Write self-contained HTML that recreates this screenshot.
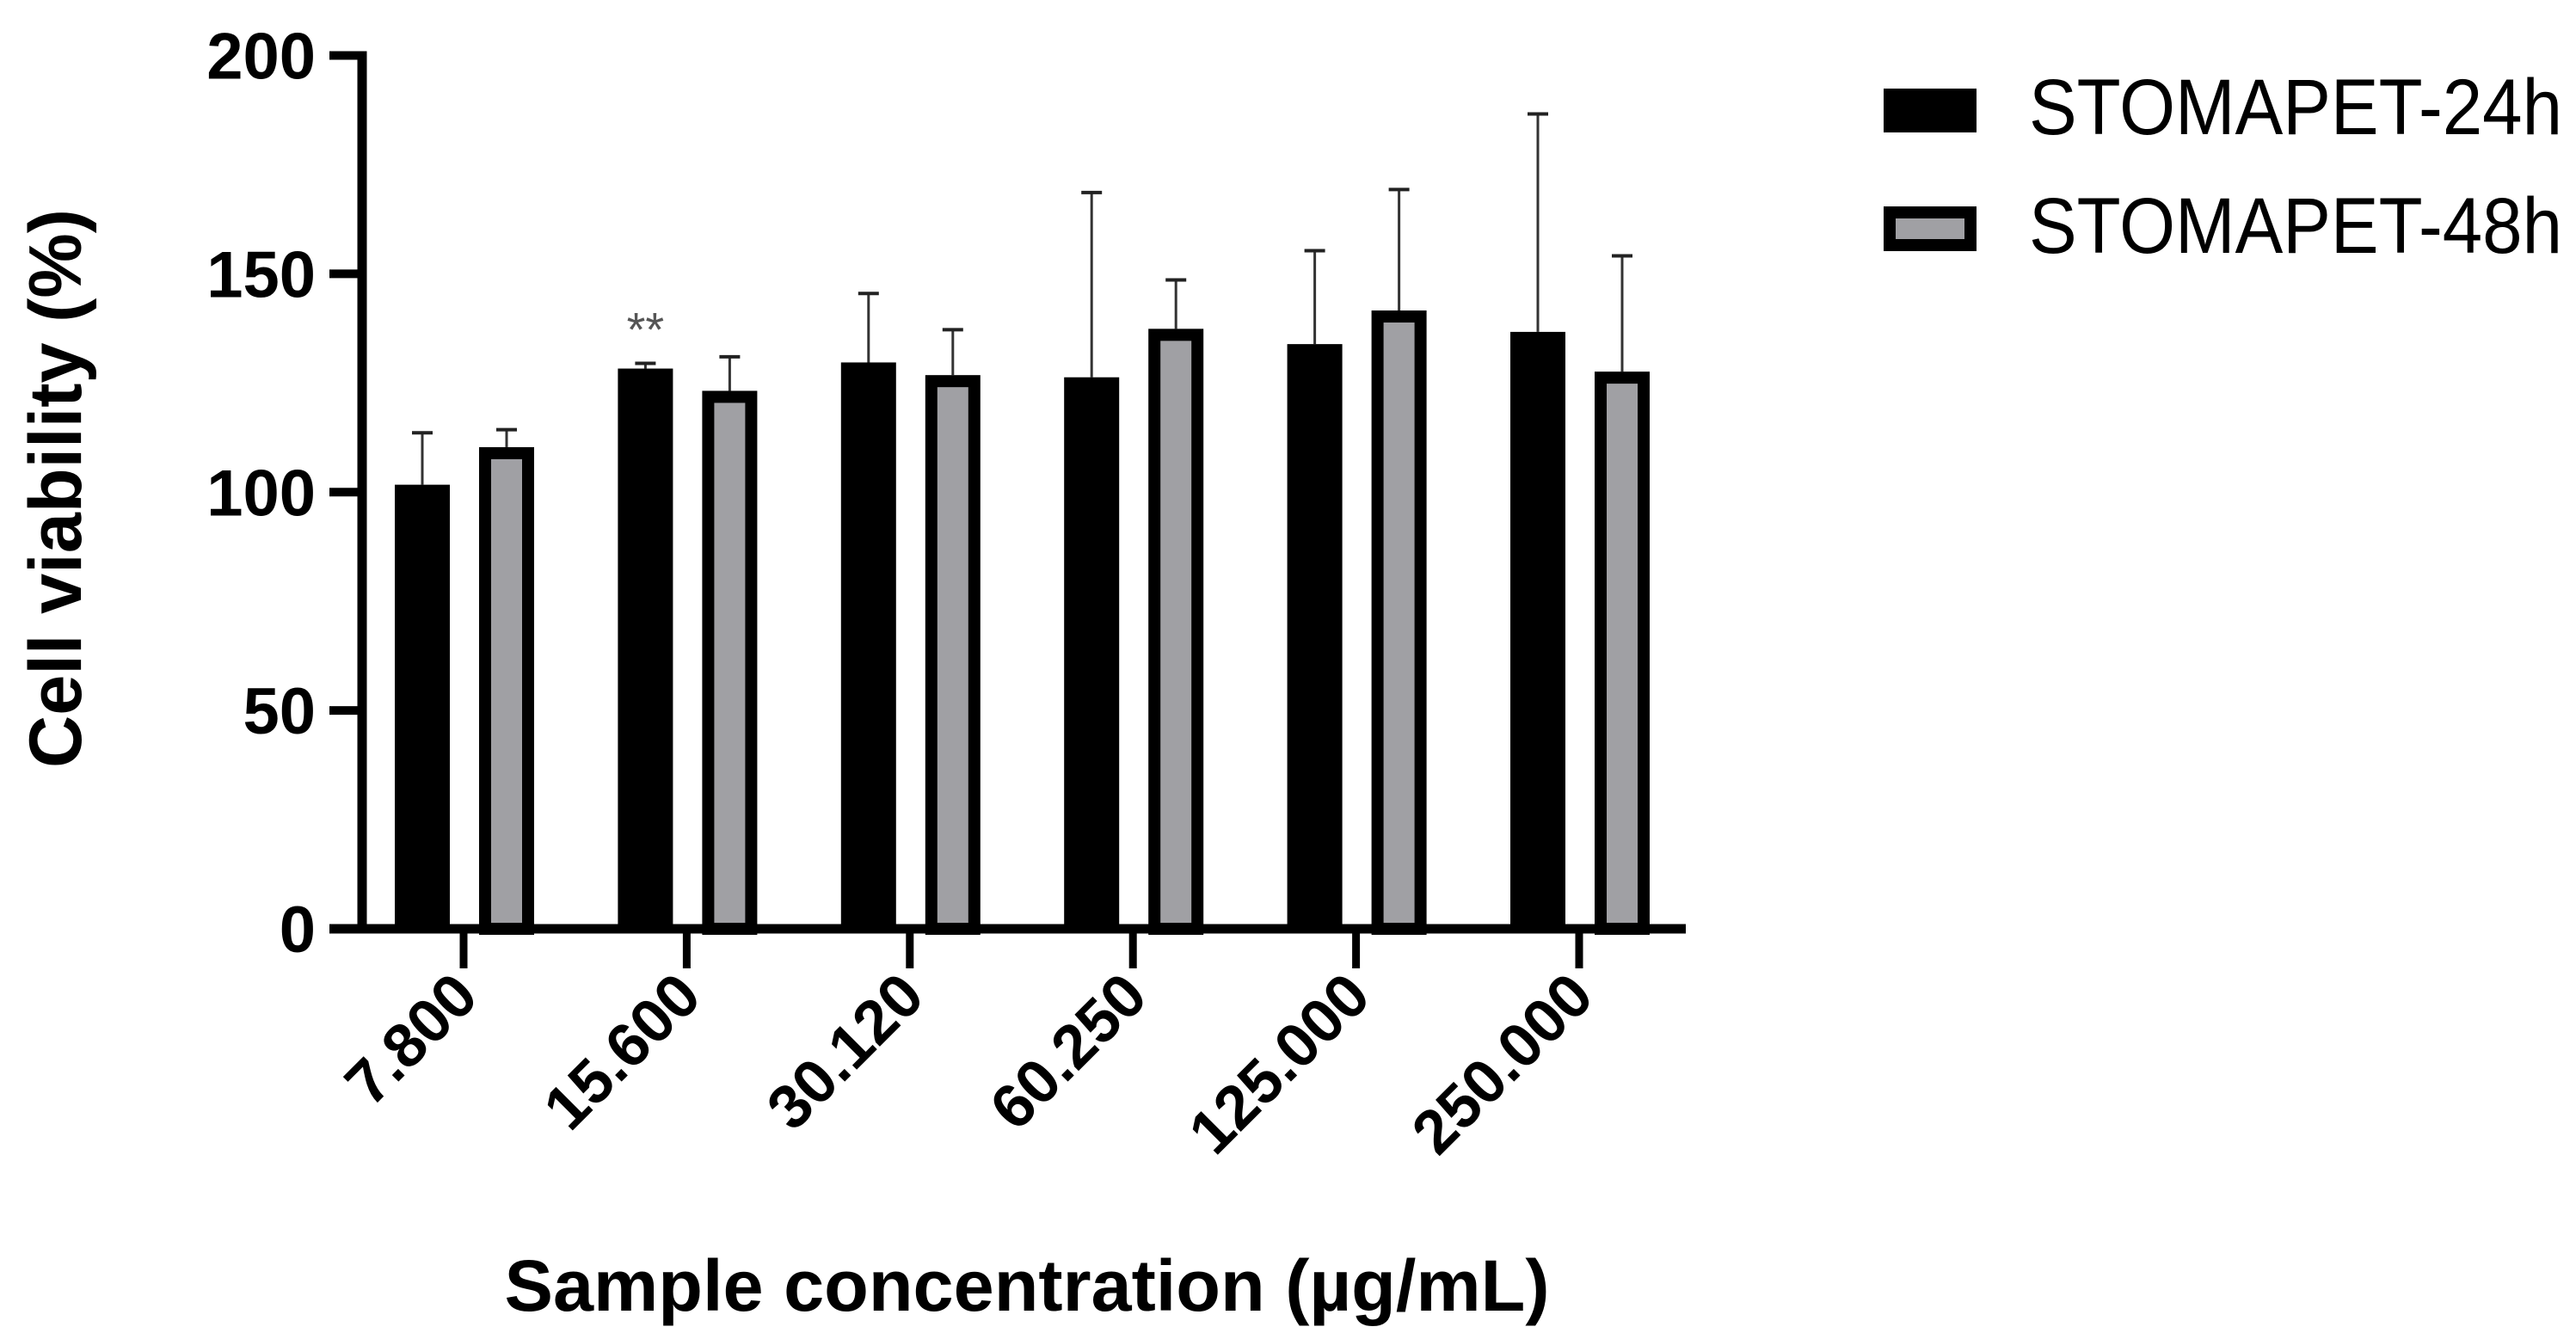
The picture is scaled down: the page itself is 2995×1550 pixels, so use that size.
<!DOCTYPE html>
<html><head><meta charset="utf-8"><style>
html,body{margin:0;padding:0;background:#fff;}
svg{display:block;font-family:"Liberation Sans",Arial,sans-serif;}
</style></head><body>
<svg id="chart" width="2995" height="1550" viewBox="0 0 2995 1550" xmlns="http://www.w3.org/2000/svg">
<g id="plot"></g>
<text transform="translate(94,568) rotate(-90)" text-anchor="middle" font-size="86" font-weight="bold" fill="#000" textLength="650" lengthAdjust="spacingAndGlyphs">Cell viability (%)</text>
<text x="1194" y="1524" text-anchor="middle" font-size="84" font-weight="bold" fill="#000" textLength="1215" lengthAdjust="spacingAndGlyphs">Sample concentration (µg/mL)</text>
<g>
<g>
<rect x="2190" y="103" width="108" height="51" fill="#000"/>
<text x="2359" y="156" font-size="92" fill="#000" textLength="620" lengthAdjust="spacingAndGlyphs">STOMAPET-24h</text>
</g>
<g>
<rect x="2197" y="247" width="94" height="38" fill="#a0a0a4" stroke="#000" stroke-width="14"/>
<text x="2359" y="294" font-size="92" fill="#000" textLength="620" lengthAdjust="spacingAndGlyphs">STOMAPET-48h</text>
</g>
</g>
</svg>
<script>
const categories = ["7.800","15.600","30.120","60.250","125.000","250.000"];
const values24 = [101.7, 128.3, 129.7, 126.3, 133.9, 136.7];
const err24 = [11.9, 1.2, 15.8, 42.3, 21.4, 49.9];
const values48 = [110.3, 123.2, 126.8, 137.4, 141.6, 127.6];
const err48 = [4.0, 7.8, 10.4, 11.2, 27.7, 26.5];
const yTicks = [0, 50, 100, 150, 200];
const annotations = [{group: 1, series: 0, text: "**"}];

const NS = "http://www.w3.org/2000/svg";
const plot = document.getElementById("plot");
const X0 = 421, X1 = 1960, Y0 = 1080, Y1 = 64.5, YMAX = 200;
const firstTick = 539, groupStep = 259.4, barW = 64;
function yScale(v){ return Y0 - (v / YMAX) * (Y0 - Y1); }
function xScale(i){ return firstTick + i * groupStep; }
function mk(tag, attrs){ const e = document.createElementNS(NS, tag); for (const k in attrs) e.setAttribute(k, attrs[k]); plot.appendChild(e); return e; }

categories.forEach((c, i) => {
  const cx = xScale(i);
  const bx = cx - 48 - barW/2;
  const y24 = yScale(values24[i]);
  const ey24 = yScale(values24[i] + err24[i]);
  let e = mk("line", {x1: cx-48, x2: cx-48, y1: y24, y2: ey24, stroke: "#333", "stroke-width": 3});
  
  
  e = mk("line", {x1: cx-48-12, x2: cx-48+12, y1: ey24, y2: ey24, stroke: "#222", "stroke-width": 4});
  
  
  e = mk("rect", {x: bx, y: y24, width: barW, height: Y0 - y24, fill: "#000"});
  
  
  const gx = cx + 50;
  const y48 = yScale(values48[i]);
  const ey48 = yScale(values48[i] + err48[i]);
  e = mk("line", {x1: gx, x2: gx, y1: y48, y2: ey48, stroke: "#333", "stroke-width": 3});
  
  
  e = mk("line", {x1: gx-12, x2: gx+12, y1: ey48, y2: ey48, stroke: "#222", "stroke-width": 4});
  
  
  e = mk("rect", {x: gx - barW/2 + 7, y: y48 + 7, width: barW - 14, height: Y0 - y48 - 7, fill: "#a0a0a4", stroke: "#000", "stroke-width": 14});
  
  
  e = mk("line", {x1: cx, x2: cx, y1: Y0, y2: 1126, stroke: "#000", "stroke-width": 9});
  
  
  e = mk("text", {transform: "translate(" + (cx + 20) + ",1162) rotate(-45)", "text-anchor": "end", "font-size": 72, "font-weight": "bold", fill: "#000"});
  e.textContent = c;
  
  
});

annotations.forEach(a => {
  const cx = xScale(a.group) + (a.series === 0 ? -48 : 50);
  const v = a.series === 0 ? values24[a.group] + err24[a.group] : values48[a.group] + err48[a.group];
  const e = mk("text", {x: cx, y: yScale(v) - 20, "text-anchor": "middle", "font-size": 56, fill: "#555"});
  e.textContent = a.text;
  
  
});

let ax = mk("line", {x1: X0, x2: X0, y1: Y1 - 5, y2: Y0 + 5, stroke: "#000", "stroke-width": 11});


ax = mk("line", {x1: 383, x2: X1, y1: Y0, y2: Y0, stroke: "#000", "stroke-width": 11});


yTicks.forEach(t => {
  const y = yScale(t);
  let e = mk("line", {x1: 383, x2: X0, y1: y, y2: y, stroke: "#000", "stroke-width": 10});
  
  
  e = mk("text", {x: 367, y: y + 27, "text-anchor": "end", "font-size": 76, "font-weight": "bold", fill: "#000"});
  e.textContent = t;
  
  
});
</script>
</body></html>
